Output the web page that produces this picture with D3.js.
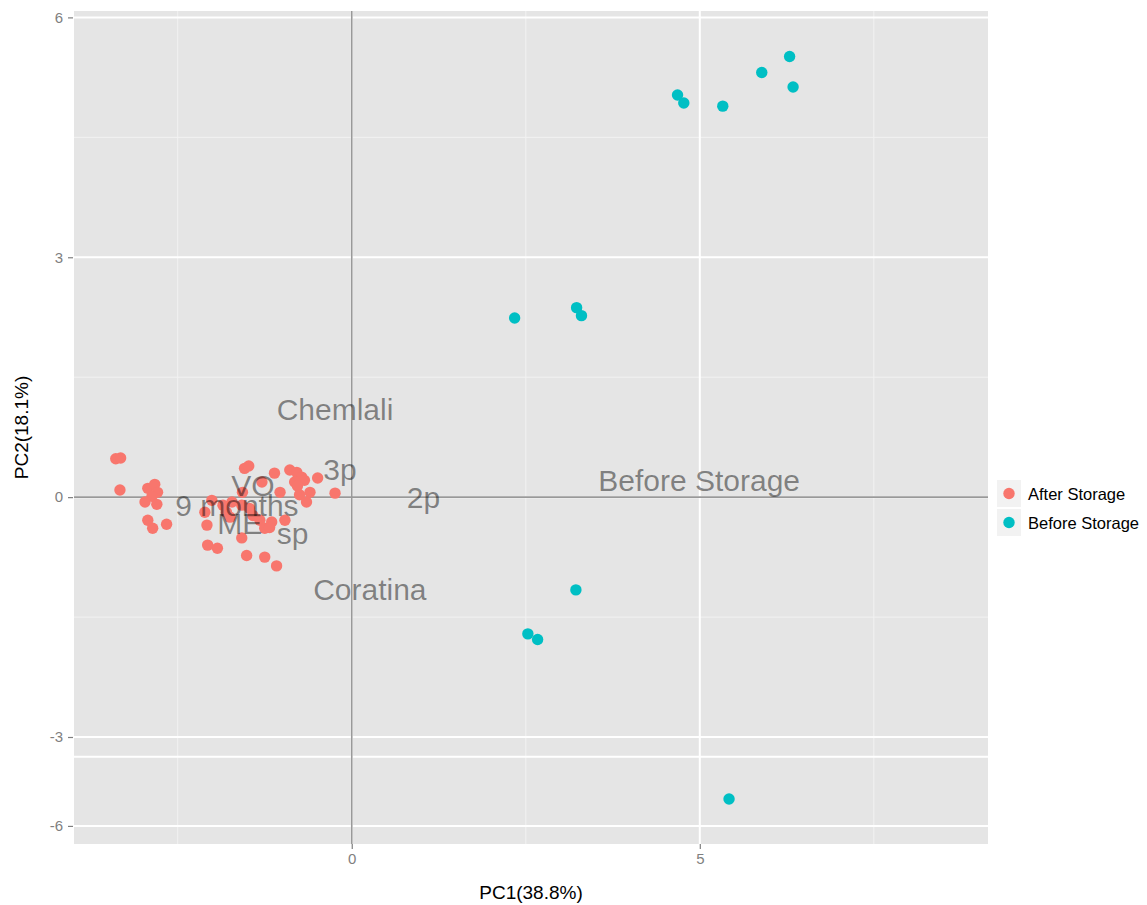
<!DOCTYPE html>
<html>
<head>
<meta charset="utf-8">
<script src="https://cdn.jsdelivr.net/npm/d3@7"></script>
<style>
  html, body { margin: 0; padding: 0; background: #ffffff; }
  svg { display: block; font-family: "Liberation Sans", Arial, sans-serif; }
</style>
</head>
<body>
<svg id="chart" width="1147" height="905"></svg>
<script>
// ---------------- data ----------------
const groups = ["After Storage", "Before Storage"];
const groupColors = ["#F8766D", "#00BFC4"];

const afterPC1 = [-3.39, -3.32, -3.33, -2.93, -2.83, -2.79, -2.87, -2.97, -2.80, -2.93, -2.86, -2.66,
  -1.54, -1.48, -1.11, -0.89, -0.79, -0.72, -0.68, -0.82, -0.49, -0.78, -0.60, -0.75, -0.65, -0.24,
  -1.03, -1.29, -1.57, -2.01, -1.72, -1.85, -1.58, -2.11, -1.80, -1.47, -2.08, -1.75, -1.32, -1.15,
  -0.96, -1.25, -1.18, -1.42, -1.58, -2.07, -1.93, -1.51, -1.25, -1.08];
const afterPC2 = [0.48, 0.49, 0.09, 0.11, 0.16, 0.06, 0.01, -0.06, -0.09, -0.29, -0.39, -0.34,
  0.36, 0.39, 0.30, 0.34, 0.31, 0.25, 0.21, 0.19, 0.24, 0.14, 0.06, 0.03, -0.06, 0.05,
  0.06, 0.19, 0.06, -0.04, -0.06, -0.10, -0.10, -0.19, -0.19, -0.14, -0.35, -0.25, -0.29, -0.31,
  -0.29, -0.39, -0.38, -0.23, -0.51, -0.60, -0.64, -0.73, -0.75, -0.86];

const beforePC1 = [4.68, 4.77, 5.33, 5.89, 6.29, 6.34, 2.34, 3.23, 3.30, 3.22, 2.53, 2.67, 5.42];
const beforePC2 = [5.03, 4.93, 4.89, 5.31, 5.51, 5.13, 2.24, 2.37, 2.27, -1.16, -1.71, -1.78, -5.09];

const labelText = ["Chemlali", "3p", "2p", "Before Storage", "VO", "9 months", "ME", "sp", "Coratina"];
const labelPC1  = [-0.24, -0.17, 1.03, 4.99, -1.42, -1.65, -1.61, -0.85, 0.26];
const labelPC2  = [1.10, 0.34, 0.00, 0.21, 0.15, -0.11, -0.33, -0.45, -1.15];

const xTicks = [0, 5];
const xMinor = [-2.5, 2.5, 7.5];
const yTicks = [-6, -3, 0, 3, 6];
const yExtraGrid = [-3.67];
const yMinor = [-1.5, 1.5, 4.5];

const xTitle = "PC1(38.8%)";
const yTitle = "PC2(18.1%)";

// ---------------- layout ----------------
const panel = { left: 74, right: 988, top: 11, bottom: 844 };
const svg = d3.select("#chart");

const x = d3.scaleLinear().domain([-3.99, 9.14]).range([panel.left, panel.right]);
// piecewise axis as in the reference (compressed below -3)
const y = d3.scaleLinear().domain([-6.61, -3, 6.08]).range([panel.bottom, 737, panel.top]);

const fmt = d => String(d); // plain hyphen-minus as in the reference

// panel background
svg.append("rect")
  .attr("x", panel.left).attr("y", panel.top)
  .attr("width", panel.right - panel.left).attr("height", panel.bottom - panel.top)
  .attr("fill", "#E5E5E5");

const grid = svg.append("g");
// minor grid
grid.selectAll(".xminor").data(xMinor).join("line")
  .attr("x1", d => x(d)).attr("x2", d => x(d))
  .attr("y1", panel.top).attr("y2", panel.bottom)
  .attr("stroke", "#F2F2F2").attr("stroke-width", 1);
grid.selectAll(".yminor").data(yMinor).join("line")
  .attr("y1", d => y(d)).attr("y2", d => y(d))
  .attr("x1", panel.left).attr("x2", panel.right)
  .attr("stroke", "#F2F2F2").attr("stroke-width", 1);
// major grid
grid.selectAll(".xmajor").data(xTicks).join("line")
  .attr("x1", d => x(d)).attr("x2", d => x(d))
  .attr("y1", panel.top).attr("y2", panel.bottom)
  .attr("stroke", "#FFFFFF").attr("stroke-width", 2);
grid.selectAll(".ymajor").data(yTicks.concat(yExtraGrid)).join("line")
  .attr("y1", d => y(d)).attr("y2", d => y(d))
  .attr("x1", panel.left).attr("x2", panel.right)
  .attr("stroke", "#FFFFFF").attr("stroke-width", 2);

// reference lines at 0
svg.append("line")
  .attr("x1", x(0)).attr("x2", x(0)).attr("y1", panel.top).attr("y2", panel.bottom)
  .attr("stroke", "#999999").attr("stroke-width", 1.6);
svg.append("line")
  .attr("x1", panel.left).attr("x2", panel.right).attr("y1", y(0)).attr("y2", y(0))
  .attr("stroke", "#999999").attr("stroke-width", 1.6);

// points
const pts = [];
afterPC1.forEach((v, i) => pts.push({ g: 0, px: v, py: afterPC2[i] }));
beforePC1.forEach((v, i) => pts.push({ g: 1, px: v, py: beforePC2[i] }));
svg.append("g").selectAll("circle").data(pts).join("circle")
  .attr("cx", d => x(d.px)).attr("cy", d => y(d.py)).attr("r", 5.7)
  .attr("fill", d => groupColors[d.g]);

// text labels
svg.append("g").selectAll("text").data(labelText).join("text")
  .attr("x", (d, i) => x(labelPC1[i]))
  .attr("y", (d, i) => y(labelPC2[i]))
  .attr("text-anchor", "middle")
  .attr("dominant-baseline", "central")
  .attr("font-size", 30)
  .attr("fill", "#000000")
  .attr("fill-opacity", 0.45)
  .text(d => d);

// axes
const xAxis = d3.axisBottom(x).tickValues(xTicks).tickSize(5).tickPadding(4).tickFormat(fmt);
const gx = svg.append("g").attr("transform", `translate(0,${panel.bottom})`).call(xAxis);
gx.select(".domain").remove();
gx.selectAll(".tick line").attr("stroke", "#7F7F7F").attr("stroke-width", 1.2);
gx.selectAll(".tick text").attr("fill", "#7F7F7F").attr("font-size", 15)
  .attr("font-family", "Liberation Sans, Arial, sans-serif");

const yAxis = d3.axisLeft(y).tickValues(yTicks).tickSize(5).tickPadding(5).tickFormat(fmt);
const gy = svg.append("g").attr("transform", `translate(${panel.left - 1},0)`).call(yAxis);
gy.select(".domain").remove();
gy.selectAll(".tick line").attr("stroke", "#7F7F7F").attr("stroke-width", 1.2);
gy.selectAll(".tick text").attr("fill", "#7F7F7F").attr("font-size", 15)
  .attr("font-family", "Liberation Sans, Arial, sans-serif");

// axis titles
svg.append("text")
  .attr("x", (panel.left + panel.right) / 2).attr("y", 899)
  .attr("text-anchor", "middle").attr("font-size", 19).attr("fill", "#000")
  .text(xTitle);
svg.append("text")
  .attr("transform", `translate(28,${(panel.top + panel.bottom) / 2}) rotate(-90)`)
  .attr("text-anchor", "middle").attr("font-size", 19).attr("fill", "#000")
  .text(yTitle);

// legend
const leg = svg.append("g").attr("transform", "translate(997,480)");
const legItems = leg.selectAll("g").data(groups).join("g")
  .attr("transform", (d, i) => `translate(0,${i * 29})`);
legItems.append("rect").attr("width", 24).attr("height", 27).attr("fill", "#F2F2F2");
legItems.append("circle").attr("cx", 12).attr("cy", 13.5).attr("r", 5.7)
  .attr("fill", (d, i) => groupColors[i]);
legItems.append("text").attr("x", 31).attr("y", 13.5)
  .attr("dominant-baseline", "central").attr("font-size", 16.5).attr("fill", "#000")
  .text(d => d);
</script>
</body>
</html>
